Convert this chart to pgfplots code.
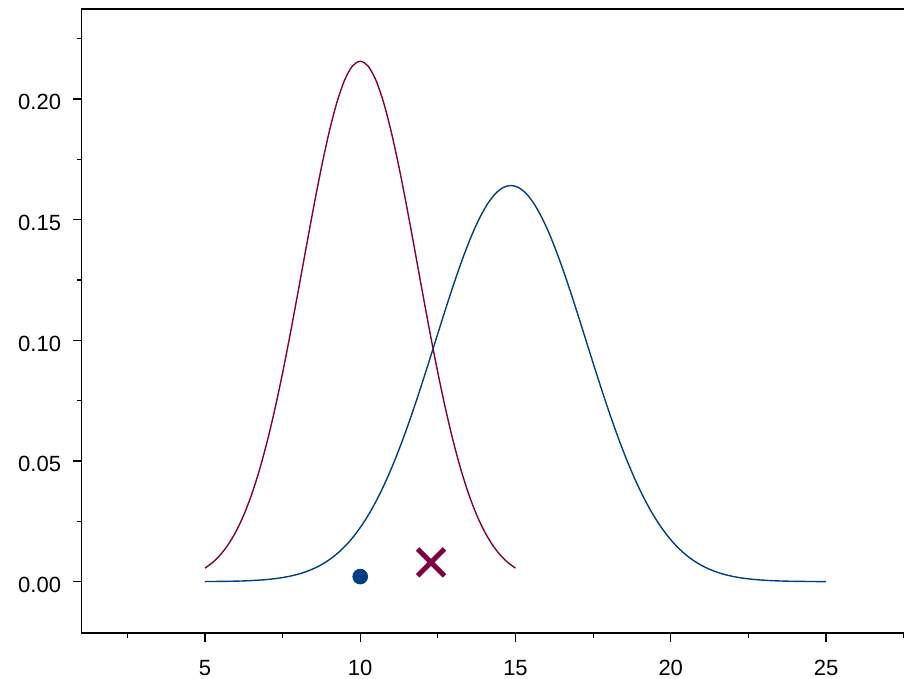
\documentclass[border=0pt]{standalone}
\usepackage{fontspec}
\setmainfont{Liberation Sans}
\usepackage{pgfplots}
\pgfplotsset{compat=1.18}

\definecolor{curvered}{RGB}{128,0,64}
\definecolor{curveblue}{RGB}{0,64,128}

\begin{document}
\begin{tikzpicture}
\useasboundingbox (0,0) rectangle (452pt,339.5pt);
\begin{axis}[
  at={(40.85pt,22.85pt)}, anchor=south west,
  scale only axis, width=434.25pt, height=312.15pt,
  xmin=1.03, xmax=29, ymin=-0.0214, ymax=0.2373,
  axis line style={line width=0.8pt},
  tick align=outside, xtick pos=bottom, ytick pos=left,
  xtick={5,10,15,20,25},
  minor xtick={2.5,7.5,12.5,17.5,22.5,27.5},
  ytick={0,0.05,0.1,0.15,0.2},
  minor ytick={0.025,0.075,0.125,0.175,0.225},
  major tick length=4.5pt, minor tick length=2.5pt,
  every tick/.style={black, line width=0.6pt},
  /pgf/number format/assume math mode=true,
  tick label style={font=\fontsize{11}{13}\selectfont},
  yticklabel style={/pgf/number format/fixed, /pgf/number format/fixed zerofill,
    /pgf/number format/precision=2, xshift=-2.3pt, yshift=-1.7pt},
  xticklabel style={yshift=-5.3pt},
  clip=false,
]
% density of the first group, N(10, 1.85)
\addplot[curvered, line width=0.7pt, smooth] coordinates {
(5.00,0.00559) (5.25,0.00798) (5.50,0.01119) (5.75,0.01541) (6.00,0.02083)
(6.25,0.02764) (6.50,0.03602) (6.75,0.04609) (7.00,0.05791) (7.25,0.07144)
(7.50,0.08654) (7.75,0.10293) (8.00,0.12022) (8.25,0.13786) (8.50,0.15524)
(8.75,0.17164) (9.00,0.18634) (9.25,0.19864) (9.50,0.20792) (9.75,0.21369)
(10.00,0.21565)
(10.25,0.21369) (10.50,0.20792) (10.75,0.19864) (11.00,0.18634) (11.25,0.17164)
(11.50,0.15524) (11.75,0.13786) (12.00,0.12022) (12.25,0.10293) (12.50,0.08654)
(12.75,0.07144) (13.00,0.05791) (13.25,0.04609) (13.50,0.03602) (13.75,0.02764)
(14.00,0.02083) (14.25,0.01541) (14.50,0.01119) (14.75,0.00798) (15.00,0.00559)
};
% density of the second group, N(14.85, 2.43)
\addplot[curveblue, line width=0.7pt, smooth] coordinates {
(5.00,0.00004) (5.10,0.00005) (5.35,0.00008) (5.60,0.00012) (5.85,0.00017)
(6.10,0.00025) (6.35,0.00036) (6.60,0.00052) (6.85,0.00073) (7.10,0.00102)
(7.35,0.00140) (7.60,0.00192) (7.85,0.00259) (8.10,0.00346) (8.35,0.00459)
(8.60,0.00601) (8.85,0.00779) (9.10,0.00999) (9.35,0.01267) (9.60,0.01591)
(9.85,0.01977) (10.10,0.02430) (10.35,0.02955) (10.60,0.03557) (10.85,0.04236)
(11.10,0.04991) (11.35,0.05819) (11.60,0.06712) (11.85,0.07662) (12.10,0.08654)
(12.35,0.09671) (12.60,0.10694) (12.85,0.11700) (13.10,0.12667) (13.35,0.13569)
(13.60,0.14382) (13.85,0.15084) (14.10,0.15653) (14.35,0.16073) (14.60,0.16330)
(14.85,0.16417)
(15.10,0.16330) (15.35,0.16073) (15.60,0.15653) (15.85,0.15084) (16.10,0.14382)
(16.35,0.13569) (16.60,0.12667) (16.85,0.11700) (17.10,0.10694) (17.35,0.09671)
(17.60,0.08654) (17.85,0.07662) (18.10,0.06712) (18.35,0.05819) (18.60,0.04991)
(18.85,0.04236) (19.10,0.03557) (19.35,0.02955) (19.60,0.02430) (19.85,0.01977)
(20.10,0.01591) (20.35,0.01267) (20.60,0.00999) (20.85,0.00779) (21.10,0.00601)
(21.35,0.00459) (21.60,0.00346) (21.85,0.00259) (22.10,0.00192) (22.35,0.00140)
(22.60,0.00102) (22.85,0.00073) (23.10,0.00052) (23.35,0.00036) (23.60,0.00025)
(23.85,0.00017) (24.10,0.00012) (24.35,0.00008) (24.60,0.00005) (24.85,0.00003)
(25.00,0.00003)
};
% observed points
\addplot[only marks, mark=*, mark size=3.7pt, curveblue] coordinates {(10,0.0021)};
\addplot[only marks, mark=x, mark size=9.5pt, curvered,
  mark options={line width=2.5pt}] coordinates {(12.28,0.0080)};
\end{axis}
\end{tikzpicture}
\end{document}
